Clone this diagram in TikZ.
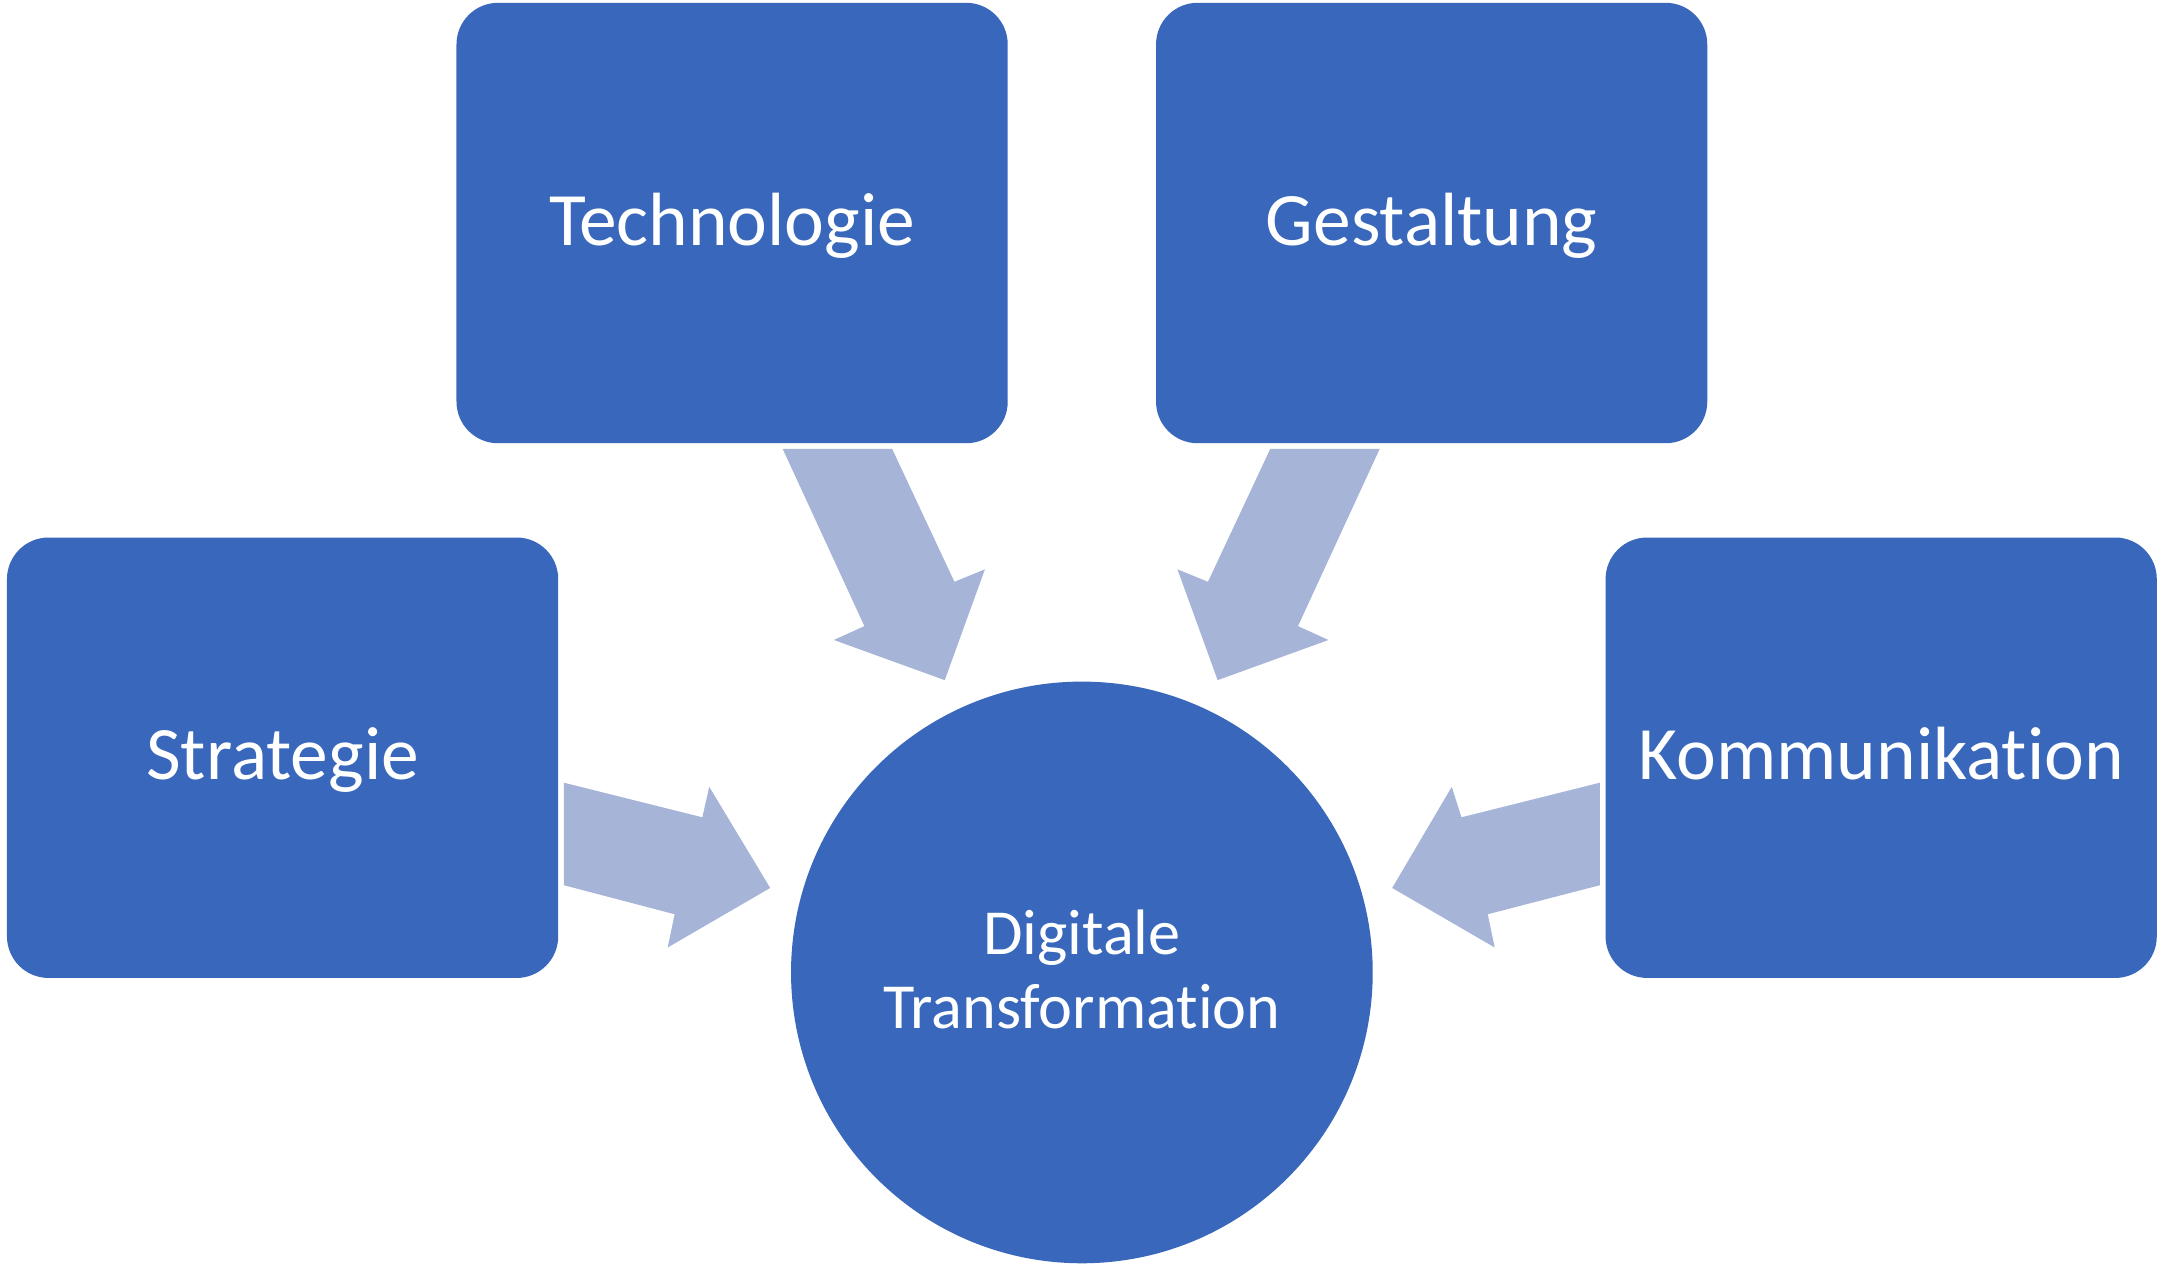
\documentclass[tikz,border=0pt]{standalone}
\usepackage{fontspec}
\setmainfont[Ligatures=NoCommon]{Carlito}
\definecolor{boxblue}{HTML}{3867BB}
\definecolor{arrowblue}{HTML}{A6B4D8}
\begin{document}
\begin{tikzpicture}[x=0.02cm,y=-0.02cm,
  box/.style={fill=boxblue,draw=none,rounded corners=0.6cm,minimum width=7.96cm,minimum height=6.36cm,text=white,font=\fontsize{31}{37}\selectfont,inner sep=0pt,text height=24pt,text depth=5.8pt},
  hub/.style={circle,fill=boxblue,draw=none,minimum size=8.4cm,inner sep=0pt},
  hubtext/.style={text=white,align=center,font=\fontsize{26.4}{30.2}\selectfont,inner sep=0pt},
  blockarrow/.style={fill=arrowblue,draw=none}]
\useasboundingbox (0,0) rectangle (1560,916.8);
\node[box] (tech) at (528.5,161) {Technologie};
\node[box] (gest) at (1033.5,161) {Gestaltung};
\node[box] (strat) at (204,547) {Strategie};
\node[box] (komm) at (1358,547) {Kommunikation};
\node[hub] (dt) at (781,702) {};
\node[hubtext] (dtlabel) at (781,700) {Digitale\\Transformation};
% block arrows
\fill[blockarrow] (565,324) -- (644,324) -- (689,420) -- (711,411) -- (682,491) -- (602,462) -- (624,452) -- cycle;
\fill[blockarrow] (996,324) -- (917,324) -- (872,420) -- (850,411) -- (879,491) -- (959,462) -- (937,452) -- cycle;
\fill[blockarrow] (407,565) -- (507,590) -- (512,568) -- (556,641) -- (482,684) -- (487,660) -- (407,639) -- cycle;
\fill[blockarrow] (1155,565) -- (1055,590) -- (1048,568) -- (1005,641) -- (1079,684) -- (1074,660) -- (1155,639) -- cycle;
\end{tikzpicture}
\end{document}
